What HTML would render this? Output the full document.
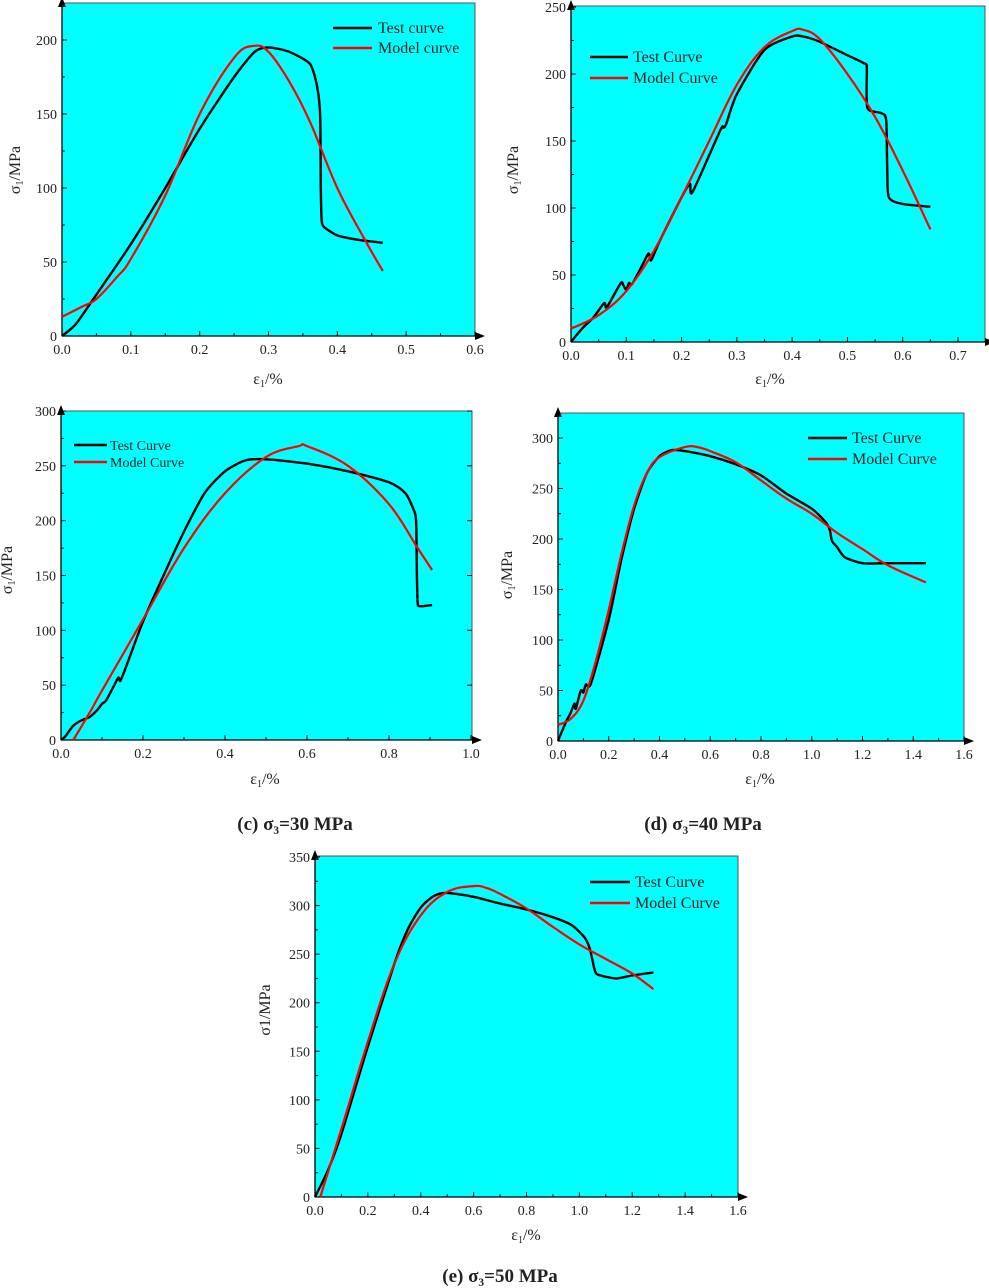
<!DOCTYPE html>
<html><head><meta charset="utf-8"><style>
body{margin:0;background:#fff}
svg{display:block}
text{font-family:"Liberation Serif",serif;fill:#222}
</style></head><body>
<svg id="fig" width="989" height="1288" viewBox="0 0 989 1288" xmlns="http://www.w3.org/2000/svg">
<text x="295" y="830" font-size="19" font-weight="bold" text-anchor="middle">(c) σ₃=30 MPa</text>
<text x="703" y="830" font-size="19" font-weight="bold" text-anchor="middle">(d) σ₃=40 MPa</text>
<text x="500" y="1282" font-size="19" font-weight="bold" text-anchor="middle">(e) σ₃=50 MPa</text>
</svg>
<script>
const testA_x=[0,0.02,0.05,0.1,0.15,0.2,0.25,0.28,0.3,0.33,0.36,0.37,0.375,0.376,0.377,0.38,0.4,0.43,0.466];
const testA_y=[0,8,28,62,100,140,175,192,195,192,184,170,150,100,80,74,68,65,63];
const modelA_x=[0,0.03,0.05,0.08,0.1,0.15,0.2,0.25,0.278,0.3,0.33,0.36,0.4,0.44,0.466];
const modelA_y=[13,20,25,40,52,95,150,188,196,192,172,145,100,65,44];
const testB_x=[0,0.02,0.04,0.06,0.065,0.09,0.095,0.1,0.105,0.11,0.125,0.14,0.145,0.16,0.2,0.215,0.22,0.27,0.275,0.28,0.3,0.35,0.4,0.42,0.45,0.5,0.53,0.535,0.536,0.56,0.57,0.572,0.575,0.6,0.65];
const testB_y=[0,10,18,29,26,44,42,39,44,43,54,66,61,75,108,118,112,158,160,162,185,218,228,228,224,214,208,205,175,171,166,130,108,103,101];
const modelB_x=[0,0.05,0.1,0.15,0.2,0.25,0.3,0.35,0.4,0.42,0.45,0.5,0.55,0.6,0.65];
const modelB_y=[10,20,38,68,108,150,192,220,232,233,226,200,168,128,84];
const testC_x=[0,0.01,0.03,0.05,0.07,0.09,0.1,0.11,0.13,0.14,0.145,0.16,0.2,0.25,0.3,0.35,0.4,0.45,0.5,0.6,0.7,0.8,0.84,0.86,0.866,0.868,0.87,0.875,0.905];
const testC_y=[0,3,13,18,21,28,33,36,50,57,54,68,108,150,190,225,245,255,256,252,245,235,225,210,200,150,125,122,123];
const modelC_x=[0.03,0.07,0.1,0.2,0.3,0.4,0.5,0.58,0.6,0.7,0.8,0.87,0.905];
const modelC_y=[0,25,45,110,175,225,258,268,268,250,215,175,155];
const testD_x=[0,0.03,0.05,0.065,0.07,0.09,0.1,0.11,0.13,0.2,0.25,0.3,0.35,0.4,0.45,0.5,0.6,0.7,0.8,0.9,1.0,1.05,1.07,1.08,1.1,1.13,1.2,1.3,1.45];
const testD_y=[0,18,28,37,32,50,48,56,57,120,180,230,265,282,288,287,282,274,263,245,230,218,210,198,192,182,176,176,176];
const modelD_x=[0,0.05,0.1,0.15,0.2,0.25,0.3,0.35,0.4,0.5,0.55,0.6,0.7,0.8,0.9,1.0,1.1,1.2,1.3,1.45];
const modelD_y=[16,22,40,80,130,185,233,265,281,291,291,287,276,258,240,225,206,190,174,157];
const testE_x=[0,0.05,0.1,0.2,0.3,0.35,0.4,0.45,0.5,0.6,0.7,0.8,0.9,0.97,1.02,1.04,1.06,1.08,1.14,1.2,1.28];
const testE_y=[0,28,65,155,240,275,298,310,313,309,302,296,288,280,267,255,232,228,225,228,231];
const modelE_x=[0.02,0.1,0.2,0.3,0.4,0.5,0.6,0.65,0.7,0.8,0.9,1.0,1.1,1.2,1.28];
const modelE_y=[0,70,160,240,290,314,320,318,312,297,278,260,245,230,214];
const xTicksA=[0,0.1,0.2,0.3,0.4,0.5,0.6], yTicksA=[0,50,100,150,200];
const xTicksB=[0,0.1,0.2,0.3,0.4,0.5,0.6,0.7], yTicksB=[0,50,100,150,200,250];
const xTicksC=[0,0.2,0.4,0.6,0.8,1.0], yTicksC=[0,50,100,150,200,250,300];
const xTicksD=[0,0.2,0.4,0.6,0.8,1.0,1.2,1.4,1.6], yTicksD=[0,50,100,150,200,250,300];
const xTicksE=[0,0.2,0.4,0.6,0.8,1.0,1.2,1.4,1.6], yTicksE=[0,50,100,150,200,250,300,350];

const NS="http://www.w3.org/2000/svg", svg=document.getElementById('fig');
function mk(tag,attrs,parent){const e=document.createElementNS(NS,tag);for(const k in attrs)e.setAttribute(k,attrs[k]);(parent||svg).appendChild(e);return e;}

const panels=[
 {id:'a',ox:62,oy:336,xr:0.6,xpx:475,right:475,yr:200,ypx:40,top:3,xt:xTicksA,yt:yTicksA,tx:testA_x,ty:testA_y,mx:modelA_x,my:modelA_y,leg:[333,372,28,48,378],lf:16,cap:'Test curve',cap2:'Model curve',yl:[20,170],xl:[268,384],ylab:'σ'},
 {id:'b',ox:571,oy:342,xr:0.7,xpx:958,right:985,yr:250,ypx:7,top:6,xt:xTicksB,yt:yTicksB,tx:testB_x,ty:testB_y,mx:modelB_x,my:modelB_y,leg:[590,628,57,78,633],lf:16,cap:'Test Curve',cap2:'Model Curve',yl:[518,170],xl:[770,384],ylab:'σ'},
 {id:'c',ox:61,oy:740,xr:1.0,xpx:471,right:472,yr:300,ypx:411,top:411,xt:xTicksC,yt:yTicksC,tx:testC_x,ty:testC_y,mx:modelC_x,my:modelC_y,leg:[74,107,445,462,110],lf:14,cap:'Test Curve',cap2:'Model Curve',yl:[12,570],xl:[265,784],ylab:'σ'},
 {id:'d',ox:558,oy:741,xr:1.6,xpx:964,right:964,yr:300,ypx:438,top:413,xt:xTicksD,yt:yTicksD,tx:testD_x,ty:testD_y,mx:modelD_x,my:modelD_y,leg:[808,847,438,459,852],lf:16,cap:'Test Curve',cap2:'Model Curve',yl:[512,575],xl:[760,784],ylab:'σ'},
 {id:'e',ox:315,oy:1197,xr:1.6,xpx:738,right:738,yr:350,ypx:857,top:856,xt:xTicksE,yt:yTicksE,tx:testE_x,ty:testE_y,mx:modelE_x,my:modelE_y,leg:[590,630,882,903,635],lf:16,cap:'Test Curve',cap2:'Model Curve',yl:[270,1010],xl:[526,1240],ylab:'σ1'}
];
function smooth(pts,t){
 let d='M'+pts[0][0].toFixed(1)+','+pts[0][1].toFixed(1);
 for(let i=0;i<pts.length-1;i++){
  const p0=pts[Math.max(0,i-1)],p1=pts[i],p2=pts[i+1],p3=pts[Math.min(pts.length-1,i+2)];
  const c1=[p1[0]+(p2[0]-p0[0])*t,p1[1]+(p2[1]-p0[1])*t],c2=[p2[0]-(p3[0]-p1[0])*t,p2[1]-(p3[1]-p1[1])*t];
  d+=' C'+c1.map(v=>v.toFixed(1)).join(',')+' '+c2.map(v=>v.toFixed(1)).join(',')+' '+p2[0].toFixed(1)+','+p2[1].toFixed(1);
 }
 return d;
}
panels.forEach(p=>{
 const X=v=>p.ox+(p.xpx-p.ox)*v/p.xr, Y=v=>p.oy-(p.oy-p.ypx)*v/p.yr;
 const g=mk('g',{});
 
 
 const bg=mk('rect',{x:p.ox,y:p.top,width:p.right-p.ox,height:p.oy-p.top,fill:'#00ffff',stroke:'#555','stroke-width':1},g);
 
 
 mk('line',{x1:p.ox,y1:p.oy,x2:p.right+6,y2:p.oy,stroke:'#000','stroke-width':1.3},g);
 mk('line',{x1:p.ox,y1:p.oy,x2:p.ox,y2:p.top-4,stroke:'#000','stroke-width':1.3},g);
 mk('polygon',{points:`${p.right+10},${p.oy} ${p.right},${p.oy-4} ${p.right},${p.oy+4}`,fill:'#000'},g);
 mk('polygon',{points:`${p.ox},${p.top-6} ${p.ox-4},${p.top+4} ${p.ox+4},${p.top+4}`,fill:'#000'},g);
 p.xt.forEach((t,i)=>{
  const x=X(t);
  mk('line',{x1:x,y1:p.oy,x2:x,y2:p.oy-5,stroke:'#000'},g);
  if(i<p.xt.length-1){const xm=X((t+p.xt[i+1])/2);mk('line',{x1:xm,y1:p.oy,x2:xm,y2:p.oy-3,stroke:'#000'},g);}
  const tl=mk('text',{x:x,y:p.oy+18,'font-size':14,'text-anchor':'middle'},g);tl.textContent=t.toFixed(1);
  
  
 });
 p.yt.forEach((t,i)=>{
  const y=Y(t);
  mk('line',{x1:p.ox,y1:y,x2:p.ox+5,y2:y,stroke:'#000'},g);
  if(p.id==='c')mk('line',{x1:p.right,y1:y,x2:p.right-5,y2:y,stroke:'#000'},g);
  if(i<p.yt.length-1){const ym=Y((t+p.yt[i+1])/2);mk('line',{x1:p.ox,y1:ym,x2:p.ox+3,y2:ym,stroke:'#000'},g);}
  const tl=mk('text',{x:p.ox-5,y:y+5,'font-size':14,'text-anchor':'end'},g);tl.textContent=t;
  
  
 });
 const pts=(xs,ys)=>xs.map((v,i)=>[X(v),Y(ys[i])]);
 const t=mk('path',{d:smooth(pts(p.tx,p.ty),0.12),fill:'none',stroke:'#000','stroke-width':2.4,'stroke-linejoin':'round'},g);
 
 
 const m=mk('path',{d:smooth(pts(p.mx,p.my),0.18),fill:'none',stroke:'#ff0000','stroke-width':2.2,'stroke-linejoin':'round'},g);
 
 
 const L=p.leg;
 mk('line',{x1:L[0],y1:L[2],x2:L[1],y2:L[2],stroke:'#000','stroke-width':2.5},g);
 mk('line',{x1:L[0],y1:L[3],x2:L[1],y2:L[3],stroke:'#ff0000','stroke-width':2.5},g);
 const l1=mk('text',{x:L[4],y:L[2]+5,'font-size':p.lf},g);l1.textContent=p.cap;
 
 
 const l2=mk('text',{x:L[4],y:L[3]+5,'font-size':p.lf},g);l2.textContent=p.cap2;
 
 
 const yl=mk('text',{x:p.yl[0],y:p.yl[1],'font-size':16,'text-anchor':'middle',transform:`rotate(-90 ${p.yl[0]} ${p.yl[1]})`},g);
 yl.innerHTML=p.ylab==='σ1'?'σ1/MPa':'σ<tspan font-size="10" dy="3">1</tspan><tspan dy="-3">/MPa</tspan>';
 
 
 const xl=mk('text',{x:p.xl[0],y:p.xl[1],'font-size':16,'text-anchor':'middle'},g);
 xl.innerHTML='ε<tspan font-size="10" dy="3">1</tspan><tspan dy="-3">/%</tspan>';
 
 
});
</script>
</body></html>
